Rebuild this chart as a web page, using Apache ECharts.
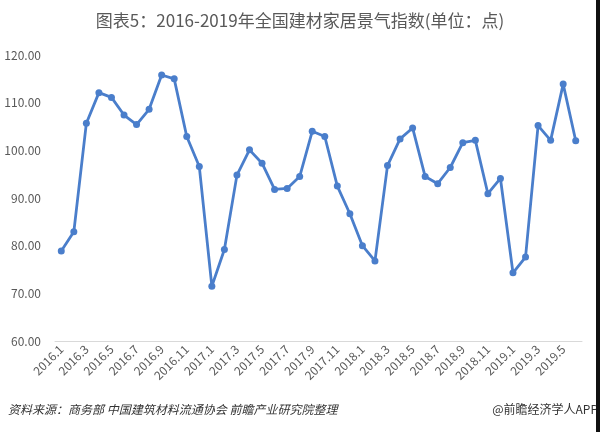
<!DOCTYPE html>
<html>
<head>
<meta charset="utf-8">
<script src="https://cdn.jsdelivr.net/npm/echarts@6/dist/echarts.min.js"></script>
<style>html,body{margin:0;padding:0;background:#fff}#c{width:600px;height:432px}</style>
</head>
<body>
<div id="c"></div>
<script>
const titleText = '图表5：2016-2019年全国建材家居景气指数(单位：点)';
const sourceText = '资料来源：商务部 中国建筑材料流通协会 前瞻产业研究院整理';
const brandText = '@前瞻经济学人APP';
const categories = [];
const years = [2016, 2017, 2018, 2019];
years.forEach(y => { const n = y === 2019 ? 6 : 12; for (let m = 1; m <= n; m++) categories.push(y + '.' + m); });
const values = [
  78.9, 82.9, 105.7, 112.1, 111.1, 107.4, 105.4, 108.6, 115.8, 115.0, 102.9, 96.6,
  71.5, 79.2, 94.8, 100.1, 97.3, 91.8, 92.0, 94.5, 104.0, 102.9, 92.5, 86.7, 80.0, 76.8,
  96.8, 102.4, 104.7, 94.5, 93.0, 96.4, 101.6, 102.1, 90.9, 94.1,
  74.3, 77.6, 105.2, 102.1, 113.9, 102.0
];
const yTicks = { min: 60, max: 120, interval: 10 };
const chart = echarts.init(document.getElementById('c'));
chart.setOption({
  animation: false,
  backgroundColor: '#fff',
  title: {
    text: titleText, left: 'center', top: 7,
    textStyle: { fontSize: 17, fontWeight: 'normal', color: '#595959', fontFamily: 'Noto Sans CJK SC' }
  },
  grid: { left: 55, right: 18, top: 55, bottom: 91 },
  xAxis: {
    type: 'category', data: categories, boundaryGap: true,
    axisLine: { lineStyle: { color: '#d9d9d9' } },
    axisTick: { show: false },
    axisLabel: { interval: 1, rotate: 45, color: '#595959', fontSize: 12, fontFamily: 'Noto Sans CJK SC', margin: 6 }
  },
  yAxis: {
    type: 'value', min: yTicks.min, max: yTicks.max, interval: yTicks.interval,
    axisLine: { show: false }, axisTick: { show: false },
    splitLine: { show: false },
    axisLabel: { color: '#595959', fontSize: 12, fontFamily: 'Noto Sans CJK SC', margin: 14, formatter: v => v.toFixed(2) }
  },
  series: [{
    type: 'line', data: values,
    symbol: 'circle', symbolSize: 7, showSymbol: true,
    lineStyle: { color: '#4a7ecb', width: 2.8 },
    itemStyle: { color: '#4a7ecb' }
  }],
  graphic: [
    { type: 'text', left: 8, top: 403, style: { text: sourceText, fill: '#333', fontSize: 12, fontStyle: 'italic', fontFamily: 'Noto Sans CJK SC' } },
    { type: 'text', right: 2, top: 403, style: { text: brandText, fill: '#333', fontSize: 12, fontFamily: 'Noto Sans CJK SC' } },
    { type: 'rect', shape: { x: 596, y: 0, width: 4, height: 432 }, style: { fill: '#111' } }
  ]
});
</script>
</body>
</html>
